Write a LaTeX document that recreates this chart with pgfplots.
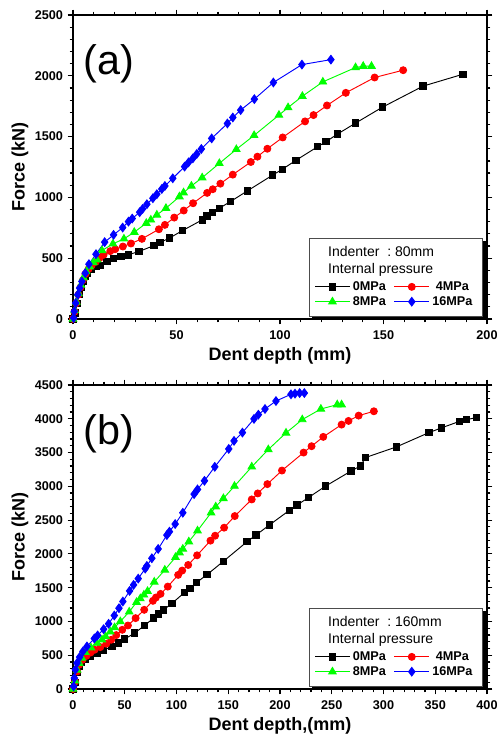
\documentclass[border=0pt]{standalone}
\usepackage{fontspec}
\setmainfont{Liberation Sans}
\usepackage{pgfplots}
\pgfplotsset{compat=1.18}

\pgfplotsset{
  dentax/.style={
    scale only axis, width=310.5pt, height=228pt, anchor=south west,
    xmin=0, xmax=#1, ymin=0,
    axis line style={line width=1.1pt},
    every tick/.style={black, line width=0.9pt},
    tick align=outside, major tick length=4pt, minor tick length=2.5pt,
    minor x tick num=4, minor y tick num=4,
    ticklabel style={font=\bfseries\fontsize{9.5}{11}\selectfont},
    xticklabel style={yshift=-1.5pt},
    /pgf/number format/assume math mode=true,
    /pgf/number format/1000 sep={},
    scaled ticks=false,
    label style={font=\bfseries\fontsize{13.5}{15}\selectfont},
    xlabel style={yshift=1pt},
    ylabel style={yshift=-2pt},
    legend style={draw=none, fill=none, font=\bfseries\fontsize{9.5}{11}\selectfont,
      at={(rel axis cs:0.975,0.025)}, anchor=south east,
      inner sep=1pt, row sep=-1pt,
      /tikz/every even column/.append style={column sep=4pt}},
    legend columns=2,
    legend image code/.code={
      \draw[mark repeat=2,mark phase=2] plot coordinates {(0pt,0pt) (13pt,0pt) (26pt,0pt)};},
  },
  s0/.style={black, line width=0.7pt, mark=square*, mark size=2.4pt},
  s4/.style={red, line width=0.7pt, mark=*, mark size=2.6pt},
  s8/.style={green, line width=0.7pt, mark=triangle*, mark size=3.2pt},
  s16/.style={blue, line width=0.7pt, mark=diamond*, mark size=3.2pt},
}

\newcommand{\legbox}[1]{%
  \fill[black] ([shift={(2pt,-2pt)}]rel axis cs:0.572,0.01) rectangle ([shift={(2pt,-2pt)}]rel axis cs:0.99,0.266);
  \filldraw[fill=white, draw=black!70, line width=0.6pt] (rel axis cs:0.572,0.01) rectangle (rel axis cs:0.99,0.266);
  \node[anchor=west, font=\fontsize{10.5}{12}\selectfont] at (rel axis cs:0.605,0.222) {Indenter\ \ :\ #1};
  \node[anchor=west, font=\fontsize{10.5}{12}\selectfont] at (rel axis cs:0.605,0.162) {Internal pressure};
}

\begin{document}
\begin{tikzpicture}
\useasboundingbox (0,0) rectangle (372pt,553.5pt);

% (a)
\begin{axis}[dentax=200, at={(54.75pt,314.25pt)}, ymax=2500,
  xtick distance=50, ytick distance=500,
  xlabel={Dent depth (mm)}, ylabel={Force (kN)}]
\legbox{80mm}
\addplot[s0] coordinates {
 (0,0) (1,50) (2,130) (3,200) (4,260) (5,310) (6,350) (7,380) (9,410) (11,430)
 (13.2,440) (16.4,473) (19.6,500) (23.2,514) (26.7,528) (31.8,555) (39.2,604)
 (42.1,629) (46.5,665) (52.9,727) (62.4,815) (64.8,848) (67.4,878) (70.7,911)
 (76,965) (84.2,1053) (96.5,1184) (101.1,1231) (107.7,1305) (118.2,1417)
 (122.2,1458) (127.8,1521) (136.5,1611) (149.5,1742) (169.1,1915) (188.4,2013)};
\addplot[s4] coordinates {
 (0,0) (0.8,60) (1.6,130) (2.6,200) (3.6,260) (4.8,320) (6,370) (7.5,410) (9,440)
 (11,470) (12.8,500) (14.8,528) (18,558) (20.4,574) (24.1,596) (28,621) (33.3,659)
 (41.5,738) (44.4,774) (48.9,834) (53.5,892) (58,952) (64.8,1037) (67.5,1067)
 (71.2,1113) (77.2,1187) (85.9,1291) (89.1,1335) (93.9,1400) (101.3,1493)
 (112.1,1625) (116.2,1677) (122.7,1756) (131.8,1860) (145.7,1986) (159.5,2046)};
\addplot[s8] coordinates {
 (0,0) (0.8,70) (1.6,140) (2.6,210) (3.8,280) (5,340) (6.4,390) (8,430) (9.8,465)
 (11.6,487) (14,563) (19.3,618) (24.6,659) (29.6,714) (35.4,788) (37.6,815)
 (40.5,856) (44.9,911) (51.4,1006) (53.4,1039) (57.2,1094) (62.4,1162) (70.7,1280)
 (78.9,1395) (87.5,1510) (99.5,1677) (103.9,1739) (110.8,1832) (120.7,1950)
 (136.5,2068) (140.2,2079) (144.2,2079)};
\addplot[s16] coordinates {
 (0.3,8) (0.6,63) (1.3,131) (2.3,200) (3.2,254) (4.3,309) (5.9,377) (7.7,451)
 (11.1,533) (15.3,632) (19.6,692) (24,752) (26.8,801) (28.6,826) (32.2,878)
 (33.6,905) (35.7,944) (38.6,993) (40.5,1026) (42.9,1069) (44.4,1094) (48.2,1157)
 (53.9,1253) (55.8,1288) (57.9,1321) (59.8,1357) (62,1398) (67,1485) (74.6,1608)
 (77.2,1657) (81,1718) (87.6,1808) (96.8,1945) (110.6,2092) (124.6,2133)};
\legend{0MPa,4MPa,8MPa,16MPa}
\node[anchor=west, font=\fontsize{31}{34}\selectfont] at (rel axis cs:0.015,0.84) {(a)};
\end{axis}

% (b)
\begin{axis}[dentax=400, at={(54.75pt,36.75pt)}, ymax=4500,
  xtick distance=50, ytick distance=500, minor x tick num=4,
  xlabel={Dent depth,(mm)}, ylabel={Force (kN)}]
\legbox{160mm}
\addplot[s0] coordinates {
 (0,0) (2,100) (4,250) (6,340) (8,400) (11.9,443) (16.7,482) (23.2,532) (28.9,571)
 (37.6,630) (43.7,679) (49.8,738) (59.5,827) (69.1,940) (77.8,1049) (82.3,1108)
 (87.5,1172) (95.8,1270) (107.7,1428) (112.9,1487) (119.3,1575) (129.6,1694)
 (145.3,1890) (168.2,2181) (176.8,2279) (189.7,2427) (209,2644) (216.4,2722)
 (227.7,2836) (244,3003) (268.5,3225) (277.8,3303) (282.6,3426) (312.5,3584)
 (344,3796) (356,3865) (373.6,3963) (380.1,3988) (389.7,4017)};
\addplot[s4] coordinates {
 (0,0) (2,110) (4,260) (6,360) (9,430) (13,490) (17,540) (20.9,581) (26.4,620)
 (32.2,670) (37,729) (41.8,798) (47.6,876) (53.1,940) (60.5,1049) (68.8,1172)
 (77.2,1305) (80.1,1354) (84.6,1408) (91.6,1516) (101.6,1689) (105.5,1753)
 (111.3,1836) (119.9,1979) (132.8,2196) (137.3,2269) (146,2388) (156.3,2560)
 (172.7,2806) (178.5,2895) (187.8,3033) (201.9,3234) (222.8,3500) (230.5,3594)
 (241.8,3732) (259.5,3914) (266.2,3968) (276,4047) (290.7,4111)};
\addplot[s8] coordinates {
 (0,0) (2,120) (4,280) (6,380) (8.5,460) (11.9,542) (17.4,610) (23.2,679) (28,729)
 (31.5,778) (36,847) (40.2,911) (45.7,999) (54.3,1142) (61.4,1285) (65,1339)
 (68.5,1393) (72,1447) (78.5,1585) (88.7,1762) (99,1950) (102.9,2018) (106.1,2073)
 (111.9,2181) (120.3,2343) (133.4,2609) (137.9,2698) (145.3,2821) (156,3003)
 (172.7,3289) (188.7,3545) (205.8,3791) (221.5,3988) (239.5,4145) (255.3,4209)
 (259.5,4209)};
\addplot[s16] coordinates {
 (0.6,39) (1.3,162) (2.3,286) (3.9,384) (6.4,473) (9.6,556) (13.5,630) (20.6,748)
 (23.8,793) (29.6,886) (34.4,965) (39.9,1088) (44.4,1196) (48.2,1295) (54.7,1452)
 (58.5,1541) (63,1634) (69.8,1782) (71.4,1822) (76.2,1935) (82.3,2073) (90.7,2279)
 (93.2,2329) (98.7,2442) (106.1,2609) (117,2885) (120.3,2954) (127,3082)
 (137,3289) (150.5,3554) (155.6,3673) (163.7,3796) (174.9,3998) (179.1,4061)
 (185.5,4145) (196.1,4263) (210.6,4362) (214.5,4372) (219,4381) (223.5,4381)};
\legend{0MPa,4MPa,8MPa,16MPa}
\node[anchor=west, font=\fontsize{31}{34}\selectfont] at (rel axis cs:0.015,0.84) {(b)};
\end{axis}
\end{tikzpicture}
\end{document}
